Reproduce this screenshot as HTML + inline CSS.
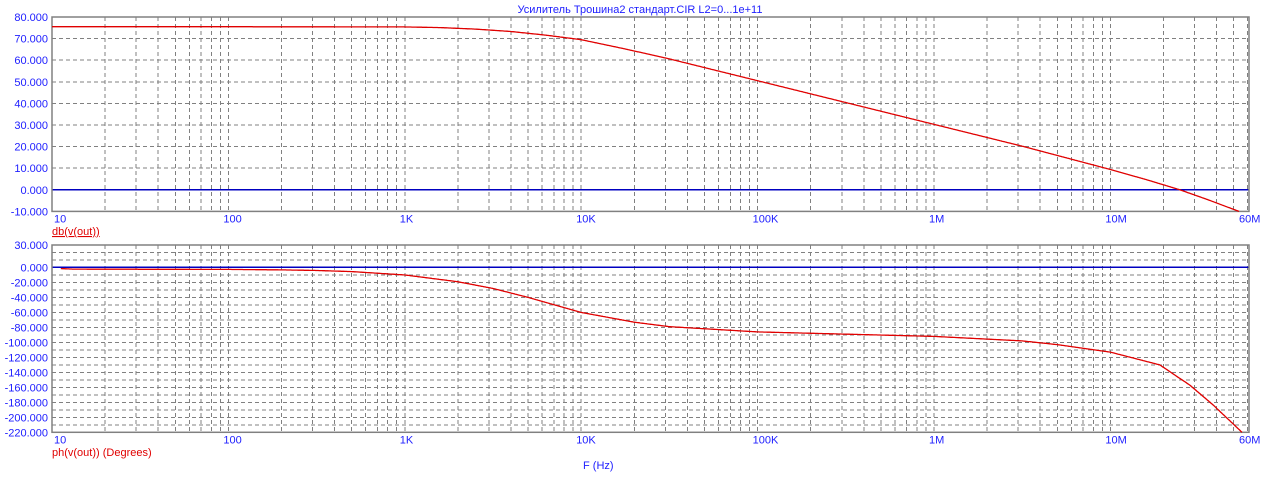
<!DOCTYPE html>
<html><head><meta charset="utf-8"><style>
html,body{margin:0;padding:0;background:#fff}
svg{display:block}
text{font-family:"Liberation Sans",Arial,sans-serif;font-size:11px}
</style></head><body>
<svg id="s" width="1276" height="483" xmlns="http://www.w3.org/2000/svg"></svg>
<script>
const s=document.getElementById('s');
const X0=52,X1=1249,D=176.4;
const fx=l=>X0+(l-1)*D;
let h='';
function line(x1,y1,x2,y2,c,dash,w){h+=`<line x1="${x1}" y1="${y1}" x2="${x2}" y2="${y2}" stroke="${c}" stroke-width="${w||1}" ${dash?'stroke-dasharray="4,3"':''} shape-rendering="crispEdges"/>`;}
function txt(x,y,t,c,anchor,extra){h+=`<text x="${x}" y="${y}" fill="${c}" text-anchor="${anchor||'start'}" ${extra||''}>${t}</text>`;}
function plot(yt,yb,vmax,vmin,step,labs){
  const sc=(yb-yt)/(vmax-vmin);
  const vy=v=>yt+(vmax-v)*sc;
  for(let v=vmax-step;v>vmin;v-=step){ if(Math.abs(v)<1e-9) continue; line(X0,vy(v),X1,vy(v),'#808080',true);}
  for(let d=1;d<=7;d++){for(let m=1;m<=9;m++){const l=d+Math.log10(m);const x=fx(l);if(x<=X0+1||x>=X1-1)continue;line(x,yt,x,yb,'#808080',true);}}
  line(X0,vy(0),X1,vy(0),'#0000c0',false,1.5);
  h+=`<rect x="${X0}" y="${yt}" width="${X1-X0}" height="${yb-yt}" fill="none" stroke="#808080" stroke-width="1.5"/>`;
  labs.forEach(v=>txt(48,vy(v)+4,v.toFixed(3),'#2020ff','end'));
  const xl=[['10',1],['100',2],['1K',3],['10K',4],['100K',5],['1M',6],['10M',7]];
  xl.forEach(([t,l])=>txt(fx(l)-(l==1?-2:5),yb+11,t,'#2020ff'));
  txt(1239,yb+11,'60M','#2020ff');
  return vy;
}
function interp(pts,l){for(let i=0;i<pts.length-1;i++){if(l<=pts[i+1][0]){const[a,b]=[pts[i],pts[i+1]];const t=(l-a[0])/(b[0]-a[0]);
  return a[1]+(b[1]-a[1])*t;}}return pts[pts.length-1][1];}
function curve(pts,vy,l0,lend){let p=[];for(let l=l0;l<=lend;l+=0.005){p.push(fx(l).toFixed(1)+','+vy(interp(pts,l)).toFixed(1));}
  p.push(fx(lend).toFixed(1)+','+vy(interp(pts,lend)).toFixed(1));
  h+=`<polyline points="${p.join(' ')}" fill="none" stroke="#e00000" stroke-width="1.3"/>`;}
txt(640,13,'Усилитель Трошина2 стандарт.CIR L2=0...1e+11','#2020ff','middle');
const l1=[];for(let v=80;v>=-10;v-=10)l1.push(v);
const vy1=plot(17,211.4,80,-10,10,l1);
curve([[1,75.5],[2,75.5],[3,75.4],[3.2,75.1],[3.4,74.4],[3.6,73.3],[3.8,71.6],[4,69.5],[4.25,65.2],[4.5,60.6],[5,50.5],[6,30.3],[6.5,20.2],[7,9.4],[7.2,4.8],[7.394,0],[7.55,-4.5],[7.729,-10]],vy1,1,7.729);
txt(52,235,'db(v(out))','#e00000','start','text-decoration="underline"');
const l2=[30];for(let v=0;v>=-220;v-=20)l2.push(v);
const vy2=plot(245,432.3,30,-220,10,l2);
curve([[1,-1],[1.12,-2.2],[2,-2.6],[2.3,-3.2],[2.5,-4],[2.7,-5.5],[3,-10],[3.3,-19],[3.5,-28],[3.7,-40],[4,-60],[4.3,-73],[4.5,-79],[5,-86],[5.5,-89],[6,-92],[6.5,-98],[6.7,-103],[7,-113],[7.28,-130],[7.45,-157],[7.58,-183],[7.746,-220]],vy2,1.05,7.746);
txt(52,456,'ph(v(out)) (Degrees)','#e00000');
txt(583,469,'F (Hz)','#2020ff');
s.innerHTML=h;
</script>
</body></html>
